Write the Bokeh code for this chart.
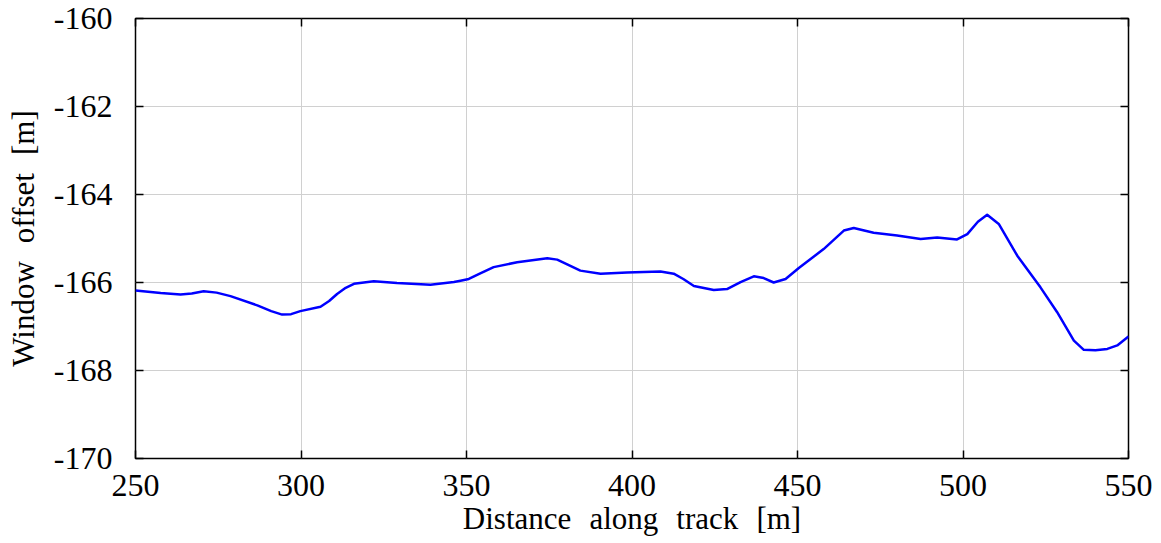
from bokeh.plotting import figure
from bokeh.models import LinearAxis, FixedTicker, Range1d
from bokeh.embed import file_html
from bokeh.resources import INLINE

distance = [250.0, 257.6, 263.6, 267.0, 270.6, 274.5, 278.7, 286.8, 291.0, 294.3, 297.0, 299.8,
            305.9, 308.5, 310.9, 313.5, 316.0, 322.0, 329.0, 339.1, 346.2, 348.2, 350.7,
            354.0, 358.2, 365.3, 374.4, 377.4, 384.4, 390.5, 398.5, 408.6, 412.6, 415.5,
            418.7, 424.7, 428.7, 432.8, 436.8, 439.8, 442.8, 446.4, 450.4, 457.9, 464.0,
            467.0, 473.0, 480.1, 487.2, 492.2, 498.2, 501.3, 504.5, 507.3, 510.8, 516.4,
            523.4, 528.4, 533.5, 536.5, 540.0, 543.6, 546.6, 549.8, 550.0]
offset = [-166.18, -166.24, -166.27, -166.25, -166.20, -166.23, -166.31, -166.52, -166.65, -166.73,
          -166.72, -166.65, -166.55, -166.42, -166.26, -166.12, -166.03, -165.97, -166.01,
          -166.05, -165.99, -165.96, -165.92, -165.80, -165.65, -165.54, -165.45, -165.48,
          -165.73, -165.80, -165.77, -165.75, -165.80, -165.92, -166.08, -166.17, -166.15,
          -165.99, -165.86, -165.90, -166.00, -165.92, -165.67, -165.24, -164.82, -164.76,
          -164.87, -164.93, -165.01, -164.98, -165.02, -164.90, -164.62, -164.46, -164.67,
          -165.39, -166.11, -166.67, -167.32, -167.53, -167.54, -167.51, -167.43, -167.24,
          -167.22]
x_ticks = [250, 300, 350, 400, 450, 500, 550]
y_ticks = [-170, -168, -166, -164, -162, -160]
y_tick_labels = ["-170", "-168", "-166", "-164", "-162", "-160"]

FONT = "Liberation Serif"
SP = "\u2002\u200a"

p = figure(width=1161, height=543, output_backend="svg", toolbar_location=None,
           x_range=Range1d(250, 550), y_range=Range1d(-170, -160),
           min_border_left=135, min_border_right=33, min_border_top=18, min_border_bottom=85)

p.line(distance, offset, line_color="#0000ff", line_width=2.5, line_join="round")

p.outline_line_color = "black"
p.outline_line_width = 1.5
p.background_fill_color = "white"
p.border_fill_color = "white"

for ax in p.xaxis:
    ax.ticker = FixedTicker(ticks=x_ticks)
for ax in p.yaxis:
    ax.ticker = FixedTicker(ticks=y_ticks)

p.grid.grid_line_color = "#d0d0d0"
p.grid.grid_line_width = 1
p.xgrid.ticker = FixedTicker(ticks=x_ticks)
p.ygrid.ticker = FixedTicker(ticks=y_ticks)

def style(ax, show_labels):
    ax.axis_line_color = None
    ax.major_tick_in = 8
    ax.major_tick_out = 0
    ax.major_tick_line_color = "black"
    ax.major_tick_line_width = 1.5
    ax.minor_tick_line_color = None
    ax.major_label_text_font = FONT
    ax.major_label_text_font_size = "32px"
    ax.major_label_text_color = "black" if show_labels else None
    ax.axis_label_text_font = FONT
    ax.axis_label_text_font_size = "31px"
    ax.axis_label_text_font_style = "normal"
    ax.axis_label_text_color = "black"

xa = p.xaxis[0]
ya = p.yaxis[0]
style(xa, True)
style(ya, True)
xa.axis_label = SP.join(["Distance", "along", "track", "[m]"])
ya.axis_label = SP.join(["Window", "offset", "[m]"])
ya.major_label_overrides = {t: s for t, s in zip(y_ticks, y_tick_labels)}
xa.major_label_standoff = 16
ya.major_label_standoff = 23
xa.axis_label_standoff = 2
ya.axis_label_standoff = 10
ya.major_label_orientation = "horizontal"

top = LinearAxis(ticker=FixedTicker(ticks=x_ticks))
right = LinearAxis(ticker=FixedTicker(ticks=y_ticks))
style(top, False)
style(right, False)
top.major_label_text_font_size = "0px"
right.major_label_text_font_size = "0px"
p.add_layout(top, "above")
p.add_layout(right, "right")

open("out.html", "w").write(file_html(p, INLINE))
